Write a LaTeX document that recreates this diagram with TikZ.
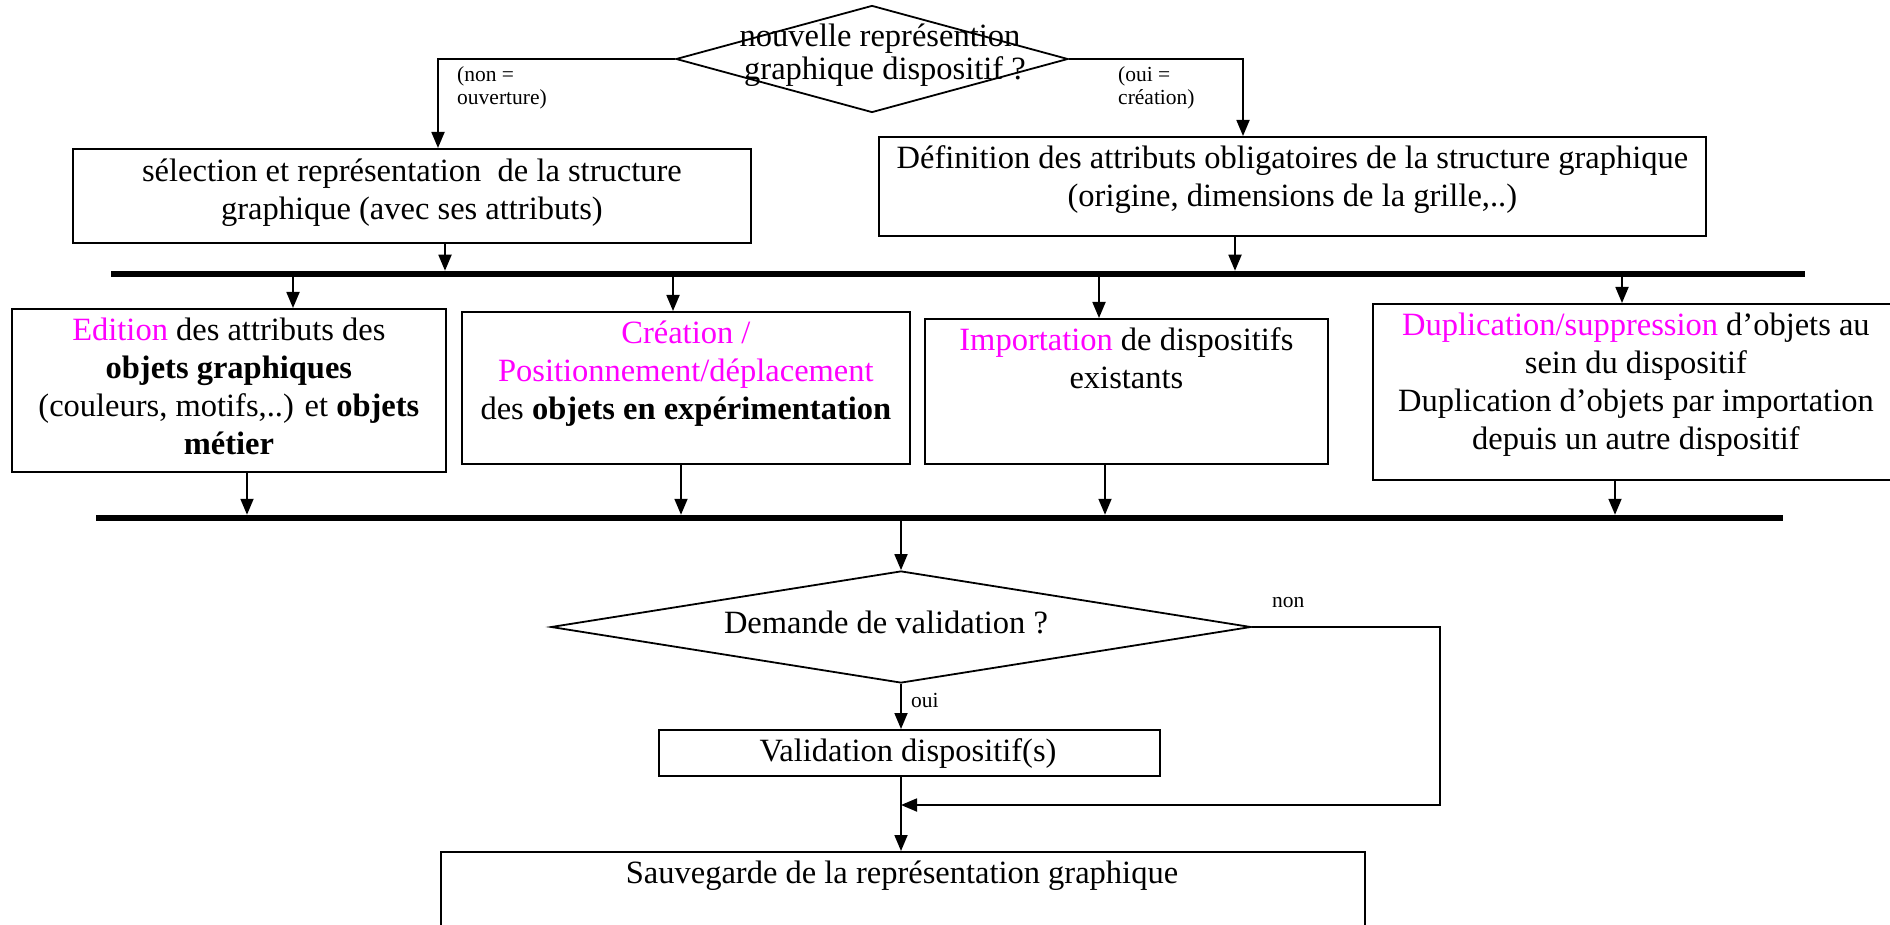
\documentclass[tikz,border=0pt]{standalone}
\usepackage{fontspec}
\setmainfont{Liberation Serif}
\usetikzlibrary{shapes.geometric,arrows.meta}
\definecolor{mag}{RGB}{255,0,255}
\newcommand{\hl}[1]{\textcolor{mag}{#1}}

\begin{document}
\begin{tikzpicture}[x=1pt,y=-1pt,
  box/.style={draw, line width=1.8pt, rectangle, inner sep=0pt, anchor=north west},
  dia/.style={draw, line width=1.8pt, diamond, inner sep=0pt},
  txt/.style={inner sep=0pt, align=center, font=\fontsize{32.5}{38}\selectfont},
  lbl/.style={inner sep=0pt, anchor=base west, font=\fontsize{21.5}{25}\selectfont},
  arr/.style={line width=1.8pt, -{Triangle[length=16pt,width=13pt]}},
  conn/.style={line width=1.8pt},
  bar/.style={line width=6.5pt},
]
\useasboundingbox (0,0) rectangle (1890,925);
\fill[white] (0,0) rectangle (1890,925);

% --- first decision ---
\node[dia, minimum width=392pt, minimum height=107pt] (d1) at (872,59) {};
\node[txt, anchor=base] (d1a) at (880,47) {nouvelle représention};
\node[txt, anchor=base] (d1b) at (885,80) {graphique dispositif ?};
\node[lbl] (lnon1) at (457,82) {(non =};
\node[lbl] (lnon2) at (457,105) {ouverture)};
\node[lbl] (loui1) at (1118,82) {(oui =};
\node[lbl] (loui2) at (1118,105) {création)};

% --- structure boxes ---
\node[box, minimum width=678pt, minimum height=94pt] (bsel) at (72,148) {};
\node[txt, anchor=north] (tsel) at ([yshift=-6.5pt]bsel.north)
  {\strut sélection et représentation\ \ de la structure\\\strut graphique (avec ses attributs)};
\node[box, minimum width=827pt, minimum height=99pt] (bdef) at (878,136) {};
\node[txt, anchor=north] (tdef) at ([yshift=-6pt]bdef.north)
  {\strut Définition des attributs obligatoires de la structure graphique\\\strut (origine, dimensions de la grille,..)};

\draw[arr] (d1.west) -| (438,0 |- bsel.north);
\draw[arr] (d1.east) -| (1243,0 |- bdef.north);

% --- first bar ---
\coordinate (bar1w) at (111,274);
\coordinate (bar1e) at (1805,274);
\draw[bar] (bar1w) -- (bar1e);
\draw[arr] (445,0 |- bsel.south) -- (445,270.75);
\draw[arr] (1235,0 |- bdef.south) -- (1235,270.75);

% --- editing boxes ---
\node[box, minimum width=434pt, minimum height=163pt] (bed) at (11,308) {};
\node[txt, anchor=north] (ted) at ([yshift=-5.5pt]bed.north)
  {\strut\hl{Edition} des attributs des\\\strut\textbf{objets graphiques}\\\strut(couleurs, motifs,..) et \textbf{objets}\\\strut\textbf{métier}};
\node[box, minimum width=448pt, minimum height=152pt] (bcr) at (461,311) {};
\node[txt, anchor=north] (tcr) at ([yshift=-5.5pt]bcr.north)
  {\strut\hl{Création /}\\\strut\hl{Positionnement/déplacement}\\\strut des \textbf{objets en expérimentation}};
\node[box, minimum width=403pt, minimum height=145pt] (bim) at (924,318) {};
\node[txt, anchor=north] (tim) at ([yshift=-5.5pt]bim.north)
  {\strut\hl{Importation} de dispositifs\\\strut existants};
\node[box, minimum width=526pt, minimum height=176pt] (bdu) at (1372,303) {};
\node[txt, anchor=north] (tdu) at ([yshift=-5.5pt]bdu.north)
  {\strut\hl{Duplication/suppression} d’objets au\\\strut sein du dispositif\\\strut Duplication d’objets par importation\\\strut depuis un autre dispositif};

\draw[arr] (293,277.25) -- (293,0 |- bed.north);
\draw[arr] (673,277.25) -- (673,0 |- bcr.north);
\draw[arr] (1099,277.25) -- (1099,0 |- bim.north);
\draw[arr] (1622,277.25) -- (1622,0 |- bdu.north);

% --- second bar ---
\coordinate (bar2w) at (96,518);
\coordinate (bar2e) at (1783,518);
\draw[bar] (bar2w) -- (bar2e);
\draw[arr] (247,0 |- bed.south) -- (247,514.75);
\draw[arr] (681,0 |- bcr.south) -- (681,514.75);
\draw[arr] (1105,0 |- bim.south) -- (1105,514.75);
\draw[arr] (1615,0 |- bdu.south) -- (1615,514.75);

% --- validation decision ---
\node[dia, minimum width=700pt, minimum height=112pt] (d2) at (901,627) {};
\node[txt, anchor=base] (d2t) at (886,633) {Demande de validation ?};
\draw[arr] (901,521.25) -- (d2.north);

\node[box, minimum width=501pt, minimum height=46pt] (bval) at (658,729) {};
\node[txt, anchor=base] (tval) at (908,761) {Validation dispositif(s)};
\draw[arr] (d2.south) -- (d2.south |- bval.north);
\node[lbl] (loui) at (911,707) {oui};
\node[lbl] (lnon) at (1272,607) {non};

\node[box, minimum width=924pt, minimum height=120pt] (bsav) at (440,851) {};
\node[txt, anchor=base] (tsav) at (902,883) {Sauvegarde de la représentation graphique};

\coordinate (join) at (901,805);
\coordinate (turn) at (1440,805);
\draw[conn] (d2.south |- bval.south) -- (join);
\draw[arr] (d2.east) -| (turn) -- (join);
\draw[arr] (join) -- (join |- bsav.north);
\end{tikzpicture}
\end{document}
